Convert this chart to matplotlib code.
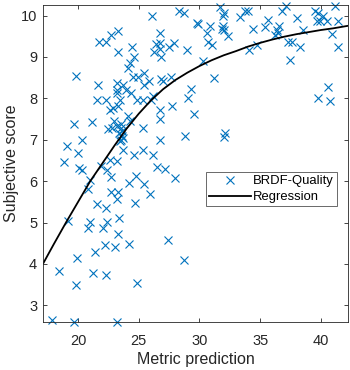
import numpy as np
import matplotlib
matplotlib.use("Agg")
import matplotlib.pyplot as plt

# metric prediction (x) vs subjective score (y)
metric = [23.27, 22.69, 21.75, 22.30, 23.27, 19.83, 21.67, 23.19, 23.19, 23.24,
          21.59, 22.30, 22.63, 22.91, 23.32, 19.69, 21.18, 22.96, 22.49, 22.77,
          23.24, 23.40, 20.35, 19.07, 19.97, 18.85, 23.24,
          26.09, 28.29, 28.73, 26.73, 26.45, 26.73, 26.26, 26.73, 26.86, 27.47,
          27.91, 29.00, 24.45, 24.61, 24.26, 24.12, 24.53, 24.94, 25.43, 25.82,
          25.43, 26.86, 27.00, 27.68, 23.71, 23.98, 24.34, 24.88, 25.35, 26.03,
          26.17, 29.33, 29.06, 29.55, 26.73, 26.73, 27.74, 23.43, 24.12, 24.26,
          25.35, 26.73, 28.84, 23.50, 23.54, 23.58, 23.62, 23.54, 23.42, 23.71,
          23.71, 24.61, 25.35, 26.17,
          31.70, 32.05, 31.97, 33.34, 33.75, 33.98, 29.77, 29.91, 30.87, 30.60,
          30.68, 31.01, 31.97, 31.89, 32.05, 32.33, 34.43, 35.40, 35.62, 36.22,
          36.50, 36.55, 37.10, 36.77, 38.01, 38.56, 34.07, 34.70, 37.27, 37.60,
          38.29, 37.46, 39.52, 39.74, 40.20, 39.66, 39.93, 40.48, 41.17, 41.44,
          40.90, 41.44, 30.32, 31.23, 32.11, 32.05, 40.62, 39.79, 40.76, 36.35,
          20.11, 20.30, 21.89, 22.63, 22.36, 22.69, 20.99, 20.85, 22.71, 23.32,
          23.19, 21.59, 22.30, 19.15, 20.99, 20.85, 22.41, 22.03, 23.40, 23.32,
          21.41, 22.22, 23.05, 19.94, 18.46, 21.21, 22.30, 19.83, 17.88, 19.69,
          23.24,
          26.54, 27.19, 27.96, 24.80, 24.17, 25.43, 25.95, 24.72, 24.20, 27.41,
          28.73, 24.88]
score = [9.63, 9.53, 9.36, 9.36, 9.12, 8.55, 8.33, 8.37, 8.21, 8.13,
         7.97, 7.97, 7.71, 7.77, 7.81, 7.37, 7.43, 7.45, 7.25, 7.29,
         7.33, 7.17, 7.00, 6.84, 6.67, 6.47, 6.48,
         10.00, 10.10, 10.07, 9.58, 9.31, 9.33, 9.13, 9.19, 9.01, 9.24,
         9.33, 9.17, 9.25, 9.01, 8.85, 8.73, 8.52, 8.52, 8.61, 8.43,
         8.31, 8.47, 8.43, 8.52, 8.31, 8.21, 8.14, 7.97, 7.97, 7.97,
         8.06, 8.23, 8.01, 7.62, 7.73, 7.50, 7.82, 7.97, 7.57, 7.45,
         7.29, 7.00, 7.08, 7.39, 7.29, 7.20, 7.10, 7.00, 6.96, 7.05,
         6.75, 6.62, 6.75, 6.62,
         10.20, 10.07, 10.00, 9.96, 10.12, 10.12, 9.83, 9.80, 9.75, 9.59,
         9.35, 9.29, 9.75, 9.67, 9.64, 9.51, 9.67, 9.73, 9.88, 9.53,
         9.58, 9.75, 10.22, 10.10, 9.94, 9.64, 9.17, 9.29, 9.37, 9.37,
         9.24, 8.93, 10.10, 10.06, 9.98, 9.86, 9.86, 9.86, 10.23, 9.86,
         9.55, 9.24, 8.89, 8.49, 7.17, 7.07, 8.27, 8.01, 7.93, 9.66,
         6.32, 6.26, 6.36, 6.50, 6.28, 6.11, 6.02, 5.82, 5.74, 5.74,
         5.56, 5.44, 5.36, 5.04, 5.02, 4.86, 5.02, 4.86, 5.12, 4.72,
         4.30, 4.45, 4.42, 4.14, 3.82, 3.79, 3.73, 3.49, 2.65, 2.59,
         2.59,
         6.34, 6.30, 6.08, 6.12, 5.96, 5.94, 5.70, 5.46, 4.49, 4.57,
         4.09, 3.55]

# regression curve
reg_x = [17.1, 18.0, 19.0, 20.0, 21.0, 22.0, 23.0, 24.0, 25.0, 26.0, 27.0, 28.0,
         29.0, 30.0, 31.0, 32.0, 33.0, 34.0, 35.0, 36.0, 37.0, 38.0, 39.0, 40.0,
         41.0, 42.2]
reg_y = [4.00, 4.48, 5.00, 5.50, 6.00, 6.43, 6.86, 7.27, 7.63, 7.95, 8.22, 8.44,
         8.62, 8.78, 8.92, 9.04, 9.14, 9.25, 9.34, 9.42, 9.49, 9.55, 9.60, 9.65,
         9.69, 9.75]

plt.rcParams['font.family'] = ['Liberation Sans', 'DejaVu Sans']
ink = '#262626'

fig = plt.figure(figsize=(3.5, 3.7), dpi=100)
ax = fig.add_axes([0.124, 0.130, 0.869, 0.856])

ax.plot(metric, score, 'x', color='#0072BD', markersize=5.5, mew=0.8,
        label='BRDF-Quality', clip_on=False)
ax.plot(reg_x, reg_y, '-', color='black', lw=1.3, label='Regression')

ax.set_xlim(17.14, 42.2)
ax.set_ylim(2.6, 10.25)
ax.set_xticks([20, 25, 30, 35, 40])
ax.set_yticks([3, 4, 5, 6, 7, 8, 9, 10])

ax.tick_params(direction='in', length=3, width=0.6, top=True, right=True,
               labelsize=10.5, colors=ink)
ax.tick_params(axis='x', pad=8.5)
ax.tick_params(axis='y', pad=4.5)
for s in ax.spines.values():
    s.set_color(ink)
    s.set_linewidth(0.6)

ax.set_xlabel('Metric prediction', fontsize=11.5, color=ink, labelpad=3)
ax.set_ylabel('Subjective score', fontsize=11.5, color=ink, labelpad=1.5)

leg = ax.legend(loc='upper right', bbox_to_anchor=(0.965, 0.474), fontsize=9.4,
                frameon=True, fancybox=False, borderpad=0.25, labelspacing=0.3,
                handlelength=3.2, handletextpad=0.15, borderaxespad=0)
leg.get_frame().set_edgecolor(ink)
leg.get_frame().set_linewidth(0.6)

fig.savefig('out.png', dpi=100)
